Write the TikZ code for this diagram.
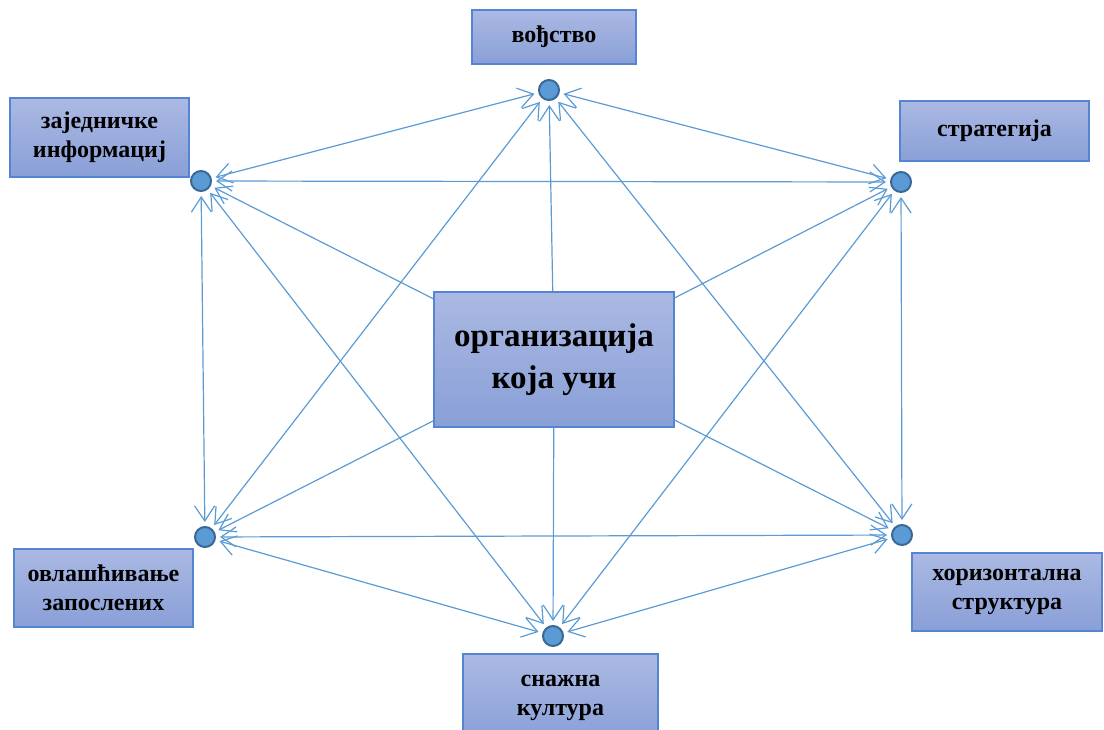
\documentclass[tikz,border=0pt]{standalone}
\usepackage{fontspec}
\setmainfont{Liberation Serif}
\usetikzlibrary{arrows.meta}
\definecolor{boxtop}{RGB}{171,185,227}
\definecolor{boxbot}{RGB}{137,159,215}
\definecolor{boxline}{RGB}{84,132,210}
\definecolor{dotfill}{RGB}{91,155,213}
\definecolor{dotline}{RGB}{58,104,150}
\definecolor{linkcol}{RGB}{91,155,213}
\begin{document}
\begin{tikzpicture}[x=1pt,y=-1pt,
  box/.style={draw=boxline, line width=1.3pt, top color=boxtop, bottom color=boxbot,
    inner sep=0pt, align=center, text=black,
    font=\bfseries\fontsize{24}{29}\selectfont},
  bigbox/.style={box, font=\bfseries\fontsize{33}{42}\selectfont},
  hub/.style={circle, draw=dotline, fill=dotfill, line width=2pt,
    minimum size=20pt, inner sep=0pt},
  barb/.tip={Straight Barb[length=15pt,width=20pt,line width=1.2pt]},
  link/.style={draw=linkcol, line width=1.2pt, shorten >=4pt},
  twoway/.style={link, shorten <=4pt, barb-barb},
  oneway/.style={link, -barb}]
\useasboundingbox (0,0) rectangle (1104,729);
\clip (0,0) rectangle (1104,729);

% labelled boxes
\node[box, minimum width=164pt, minimum height=54pt] (lead)  at (554,37)    {вођство};
\node[box, minimum width=179pt, minimum height=79pt] (info)  at (99.5,137.5) {заједничке\\информациј};
\node[box, minimum width=189pt, minimum height=60pt] (strat) at (994.5,131) {стратегија};
\node[bigbox, minimum width=240pt, minimum height=135pt] (org) at (554,359.5) {организација\\која учи};
\node[box, minimum width=179pt, minimum height=78pt] (emp)   at (103.5,588) {овлашћивање\\запослених};
\node[box, minimum width=190pt, minimum height=78pt] (horiz) at (1007,592)  {хоризонтална\\структура};
\node[box, minimum width=195pt, minimum height=88pt] (cult)  at (560.5,698) {снажна\\култура};

% connection points
\node[hub] (dT)  at (549,90)  {};
\node[hub] (dLT) at (201,181) {};
\node[hub] (dRT) at (901,182) {};
\node[hub] (dLB) at (205,537) {};
\node[hub] (dRB) at (902,535) {};
\node[hub] (dB)  at (553,636) {};

% links between the points
\draw[twoway] (dT)  -- (dLT);
\draw[twoway] (dT)  -- (dRT);
\draw[twoway] (dT)  -- (dLB);
\draw[twoway] (dT)  -- (dRB);
\draw[twoway] (dLT) -- (dRT);
\draw[twoway] (dLT) -- (dLB);
\draw[twoway] (dLT) -- (dB);
\draw[twoway] (dRT) -- (dRB);
\draw[twoway] (dRT) -- (dB);
\draw[twoway] (dLB) -- (dRB);
\draw[twoway] (dLB) -- (dB);
\draw[twoway] (dRB) -- (dB);

% links from the centre
\foreach \d in {dT,dLT,dRT,dLB,dRB,dB}
  \draw[oneway] (org) -- (\d);
\end{tikzpicture}
\end{document}
